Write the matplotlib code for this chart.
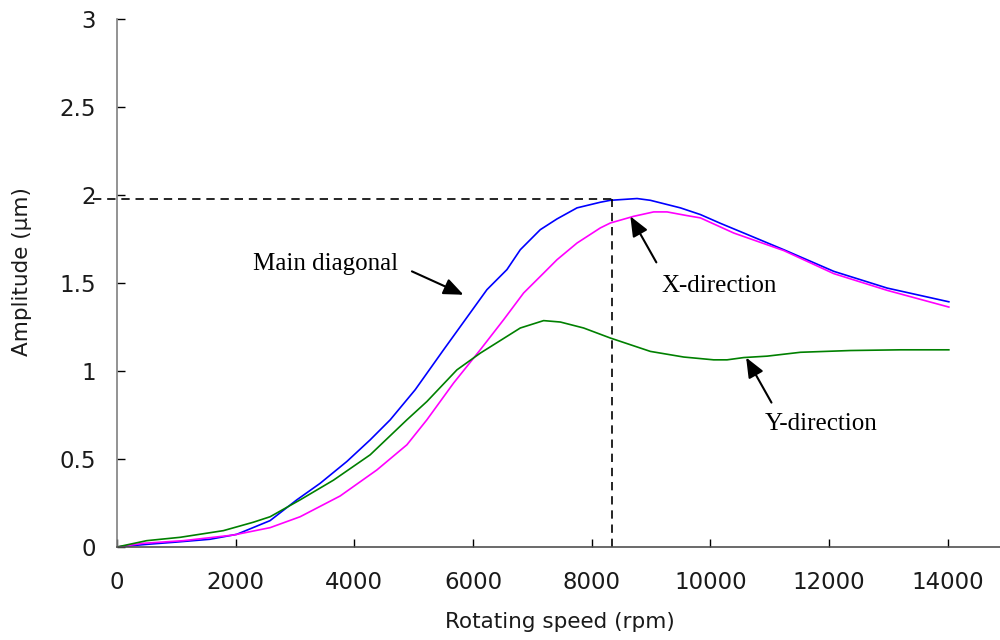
import matplotlib
matplotlib.use("Agg")
import matplotlib.pyplot as plt

# ---- data ----
main_x = [0, 500, 1000, 1568, 2018, 2580, 3030, 3423, 3873, 4266, 4604, 5025, 5503, 6234, 6571,
          6796, 7133, 7414, 7752, 8145, 8314, 8764, 8988, 9494, 9831, 10169, 10562, 11237, 11518,
          12080, 12979, 14018]
main_y = [0, 0.015, 0.028, 0.044, 0.072, 0.15, 0.268, 0.362, 0.486, 0.609, 0.723, 0.894, 1.121,
          1.463, 1.577, 1.69, 1.804, 1.865, 1.928, 1.96, 1.971, 1.981, 1.971, 1.928, 1.89, 1.84,
          1.785, 1.69, 1.649, 1.567, 1.472, 1.394]

xdir_x = [0, 443, 1118, 1962, 2580, 3086, 3760, 4379, 4885, 5222, 5672, 6121, 6515, 6852, 7189,
          7414, 7752, 8145, 8314, 8707, 9044, 9269, 9606, 9831, 10393, 11237, 12080, 12979, 14018]
xdir_y = [0, 0.021, 0.036, 0.068, 0.11, 0.172, 0.29, 0.438, 0.581, 0.723, 0.932, 1.121, 1.292,
          1.444, 1.557, 1.633, 1.728, 1.814, 1.842, 1.88, 1.905, 1.905, 1.884, 1.871, 1.785, 1.685,
          1.554, 1.459, 1.364]

ydir_x = [0, 500, 1062, 1793, 2299, 2580, 3086, 3648, 4266, 4885, 5222, 5728, 6121, 6796, 7189,
          7471, 7864, 8314, 8988, 9550, 10056, 10280, 10562, 10955, 11518, 12361, 13204, 14018]
ydir_y = [0, 0.036, 0.055, 0.093, 0.141, 0.172, 0.268, 0.38, 0.524, 0.723, 0.827, 1.007, 1.102,
          1.245, 1.287, 1.279, 1.245, 1.188, 1.112, 1.08, 1.064, 1.064, 1.077, 1.085, 1.107, 1.117,
          1.121, 1.121]

x_ticks = [0, 2000, 4000, 6000, 8000, 10000, 12000, 14000]
x_tick_labels = ["0", "2000", "4000", "6000", "8000", "10000", "12000", "14000"]
y_ticks = [0, 0.5, 1, 1.5, 2, 2.5, 3]
y_tick_labels = ["0", "0.5", "1", "1.5", "2", "2.5", "3"]

ref_x = 8347
ref_y = 1.979

# ---- figure ----
fig = plt.figure(figsize=(10, 6.4), dpi=100)
ax = fig.add_axes([0.117, 1 - 547 / 640, 1.0 - 0.117, (547 - 19.3) / 640])

ax.plot(main_x, main_y, color="#0000FF", lw=1.2)
ax.plot(xdir_x, xdir_y, color="#FF00FF", lw=1.2)
ax.plot(ydir_x, ydir_y, color="#008000", lw=1.2)

ax.plot([-400, ref_x], [ref_y, ref_y], color="black", lw=1.2, ls=(0, (5, 3.5)), clip_on=False)
ax.plot([ref_x, ref_x], [0, ref_y], color="black", lw=1.2, ls=(0, (5, 3.5)), clip_on=False)

ax.set_xlim(0, 14880)
ax.set_ylim(0, 3)
ax.set_xticks(x_ticks)
ax.set_xticklabels(x_tick_labels)
ax.set_yticks(y_ticks)
ax.set_yticklabels(y_tick_labels)

for s in ["top", "right"]:
    ax.spines[s].set_visible(False)
ax.spines["left"].set_color("#808080")
ax.spines["bottom"].set_color("#505050")
ax.spines["left"].set_linewidth(1.2)
ax.spines["bottom"].set_linewidth(1.2)

ax.tick_params(axis="both", direction="in", length=6, width=1, color="black",
               labelsize=16.5, labelcolor="#1a1a1a")
ax.tick_params(axis="x", pad=17)
ax.tick_params(axis="y", pad=15)

fig.text(0.560, 1 - 622 / 640, "Rotating speed (rpm)", ha="center", va="center",
         fontsize=15.5, color="#1a1a1a")
fig.text(0.022, 1 - 272 / 640, "Amplitude (\u03bcm)", ha="center", va="center",
         rotation=90, fontsize=15.5, color="#1a1a1a")

serif = "Liberation Serif"
ax.text(3507, 1.577, "Main diagonal", family=serif, fontsize=18, ha="center", va="baseline")
ax.text(10152, 1.447, "X-direction", family=serif, fontsize=18, ha="center", va="baseline")
ax.text(11868, 0.666, "Y-direction", family=serif, fontsize=18, ha="center", va="baseline")

arrow = dict(arrowstyle="-|>,head_length=0.6,head_width=0.25", color="black", lw=1.5,
             shrinkA=0, shrinkB=0, mutation_scale=20)
ax.annotate("", xy=(5839, 1.434), xytext=(4970, 1.567), arrowprops=arrow)
ax.annotate("", xy=(8651, 1.880), xytext=(9089, 1.618), arrowprops=arrow)
ax.annotate("", xy=(10602, 1.077), xytext=(11029, 0.821), arrowprops=arrow)

fig.savefig("out.png", dpi=100)
